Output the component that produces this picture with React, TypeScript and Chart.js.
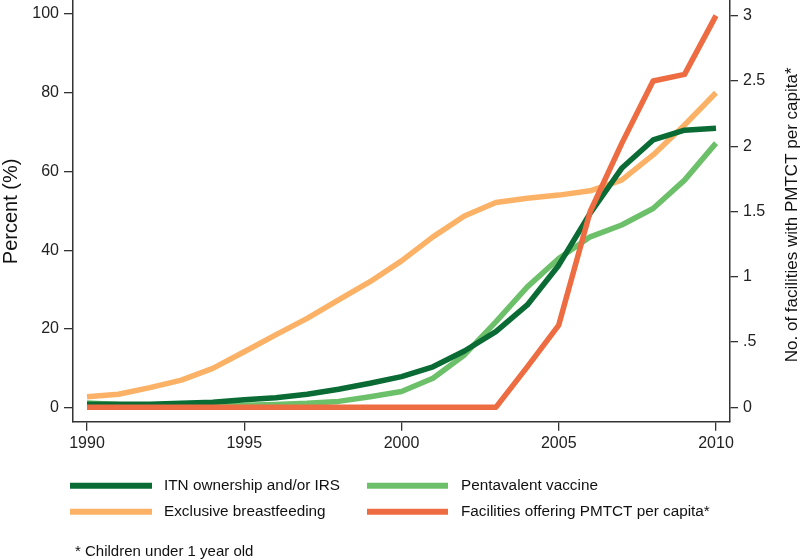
import React, { useEffect, useRef } from "react";
import { Chart, registerables } from "chart.js";

Chart.register(...registerables);

const years = [1990, 1991, 1992, 1993, 1994, 1995, 1996, 1997, 1998, 1999, 2000, 2001, 2002, 2003, 2004, 2005, 2006, 2007, 2008, 2009, 2010];
const itn = [0.9, 0.9, 0.9, 1.1, 1.4, 2.0, 2.5, 3.4, 4.7, 6.2, 7.9, 10.4, 14.4, 19.3, 26.1, 36.2, 49.4, 60.8, 68.0, 70.5, 71.0];
const pentavalent = [1.2, 0.8, 0.6, 0.5, 0.5, 0.6, 0.8, 1.1, 1.6, 2.8, 4.1, 7.5, 13.4, 21.8, 30.7, 37.9, 43.4, 46.4, 50.6, 57.8, 67.2];
const breastfeeding = [2.8, 3.4, 5.1, 7.0, 10.0, 14.2, 18.5, 22.7, 27.4, 32.0, 37.3, 43.4, 48.7, 52.1, 53.2, 54.0, 55.1, 57.8, 64.2, 71.8, 80.0];
const pmtct = [0, 0, 0, 0, 0, 0, 0, 0, 0, 0, 0, 0, 0, 0, 0.31, 0.63, 1.5, 2.02, 2.5, 2.55, 3.0];

const xTicks = [1990, 1995, 2000, 2005, 2010];
const leftTicks = [0, 20, 40, 60, 80, 100];
const rightTicks = [0, 0.5, 1, 1.5, 2, 2.5, 3];
const rightTickLabels = ["0", ".5", "1", "1.5", "2", "2.5", "3"];

const seriesNames = [
  "ITN ownership and/or IRS",
  "Pentavalent vaccine",
  "Exclusive breastfeeding",
  "Facilities offering PMTCT per capita*",
];
const seriesColors = ["#0b6b35", "#6cc06a", "#fbb266", "#ee6c42"];
const leftTitle = "Percent (%)";
const rightTitle = "No. of facilities with PMTCT per capita*";
const footnote = "* Children under 1 year old";

const FONT = "'Liberation Sans', Arial, Helvetica, sans-serif";
const AXIS_COLOR = "#333";

const toXY = (vals: number[]) => vals.map((v, i) => ({ x: years[i], y: v }));

const zeroPad = (s: any) => {
  s.paddingTop = 0;
  s.paddingBottom = 0;
  s.paddingLeft = 0;
  s.paddingRight = 0;
};

const decorPlugin = {
  id: "decor",
  afterDraw(chart: any) {
    const ctx = chart.ctx;
    const ca = chart.chartArea;
    ctx.save();
    ctx.fillStyle = "#111";
    ctx.textBaseline = "middle";
    ctx.textAlign = "center";
    // left title
    ctx.save();
    ctx.font = `20px ${FONT}`;
    ctx.translate(11, (ca.top + ca.bottom) / 2 + 0.5);
    ctx.rotate(-Math.PI / 2);
    ctx.fillText(leftTitle, 0, 0);
    ctx.restore();
    // right title
    ctx.save();
    ctx.font = `17px ${FONT}`;
    ctx.translate(792.5, (ca.top + ca.bottom) / 2 + 4);
    ctx.rotate(-Math.PI / 2);
    ctx.fillText(rightTitle, 0, 0);
    ctx.restore();

    // legend
    const cols = [
      { sx0: 70, sx1: 152, tx: 164 },
      { sx0: 367, sx1: 448, tx: 461 },
    ];
    const rows = [485.7, 511.7];
    ctx.textAlign = "left";
    ctx.font = `15.3px ${FONT}`;
    seriesNames.forEach((name, i) => {
      const c = cols[i % 2];
      const y = rows[Math.floor(i / 2)];
      ctx.strokeStyle = seriesColors[i];
      ctx.lineWidth = 6;
      ctx.lineCap = "butt";
      ctx.beginPath();
      ctx.moveTo(c.sx0, y);
      ctx.lineTo(c.sx1, y);
      ctx.stroke();
      ctx.fillStyle = "#111";
      ctx.fillText(name, c.tx, y);
    });
    ctx.font = `15px ${FONT}`;
    ctx.fillText(footnote, 75, 551.7);
    ctx.restore();
  },
};

export default function App() {
  const ref = useRef<HTMLCanvasElement | null>(null);
  useEffect(() => {
    if (!ref.current) return;
    const mk = (i: number, vals: number[], axis: string, order: number) => ({
      label: seriesNames[i],
      data: toXY(vals),
      borderColor: seriesColors[i],
      backgroundColor: seriesColors[i],
      borderWidth: 5.5,
      pointRadius: 0,
      tension: 0,
      borderJoinStyle: "round" as const,
      borderCapStyle: "butt" as const,
      yAxisID: axis,
      order,
    });
    const tickFont = { family: FONT, size: 16 };
    const chart = new Chart(ref.current, {
      type: "line",
      data: {
        datasets: [
          mk(3, pmtct, "y2", 0),
          mk(0, itn, "y", 1),
          mk(1, pentavalent, "y", 2),
          mk(2, breastfeeding, "y", 3),
        ],
      },
      plugins: [decorPlugin],
      options: {
        responsive: false,
        animation: false,
        layout: { padding: 0 },
        plugins: { legend: { display: false }, tooltip: { enabled: false } },
        scales: {
          x: {
            type: "linear",
            min: 1989.555,
            max: 2010.445,
            afterBuildTicks: (s: any) => {
              s.ticks = xTicks.map((v) => ({ value: v }));
            },
            afterFit: (s: any) => {
              s.height = 138.3;
              zeroPad(s);
            },
            ticks: {
              autoSkip: false,
              maxRotation: 0,
              padding: 3,
              color: "#222",
              font: tickFont,
              callback: (v: any) => String(v),
            },
            grid: { display: true, drawOnChartArea: false, drawTicks: true, tickLength: 9, color: AXIS_COLOR, lineWidth: 1.3 },
            border: { display: true, color: AXIS_COLOR, width: 1.5 },
          },
          y: {
            type: "linear",
            position: "left",
            min: -3.556,
            max: 103.556,
            afterBuildTicks: (s: any) => {
              s.ticks = leftTicks.map((v) => ({ value: v }));
            },
            afterFit: (s: any) => {
              s.width = 73;
              zeroPad(s);
            },
            ticks: { padding: 5, color: "#222", font: tickFont, callback: (v: any) => String(v) },
            grid: { display: true, drawOnChartArea: false, drawTicks: true, tickLength: 9, color: AXIS_COLOR, lineWidth: 1.3 },
            border: { display: true, color: AXIS_COLOR, width: 1.5 },
          },
          y2: {
            type: "linear",
            position: "right",
            min: -0.11,
            max: 3.12,
            afterBuildTicks: (s: any) => {
              s.ticks = rightTicks.map((v) => ({ value: v }));
            },
            afterFit: (s: any) => {
              s.width = 70;
              zeroPad(s);
            },
            ticks: {
              padding: 5,
              color: "#222",
              font: tickFont,
              callback: (v: any) => {
                const idx = rightTicks.indexOf(Number(v));
                return idx >= 0 ? rightTickLabels[idx] : "";
              },
            },
            grid: { display: true, drawOnChartArea: false, drawTicks: true, tickLength: 8, color: AXIS_COLOR, lineWidth: 1.3 },
            border: { display: true, color: AXIS_COLOR, width: 1.5 },
          },
        },
      },
    });
    return () => chart.destroy();
  }, []);
  return (
    <div style={{ position: "absolute", left: 0, top: 0, width: 800, height: 560, background: "#fff" }}>
      <canvas ref={ref} width={800} height={560} style={{ display: "block" }} />
    </div>
  );
}
